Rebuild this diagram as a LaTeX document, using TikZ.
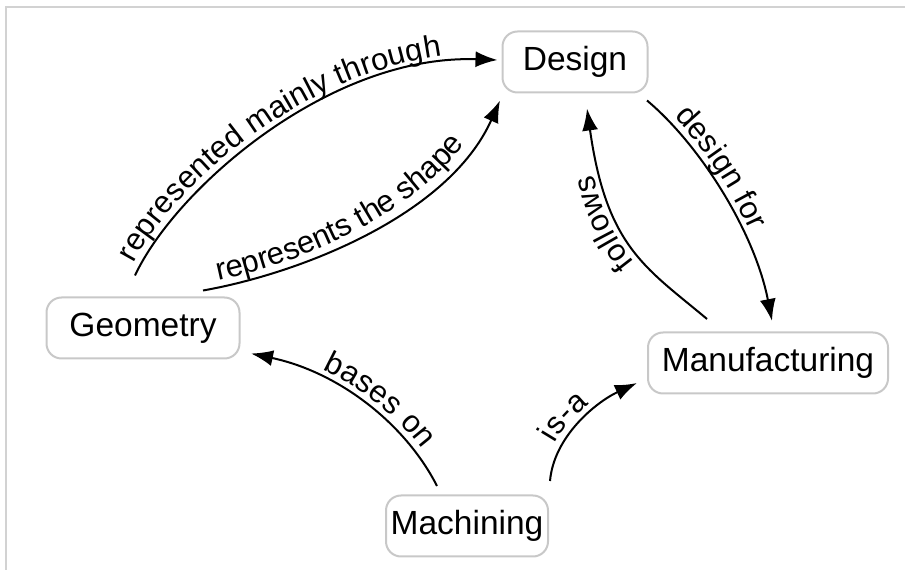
\documentclass[tikz,border=0pt]{standalone}
\usepackage{fontspec}
\setmainfont{Liberation Sans}
\usepackage{tikz}
\usetikzlibrary{arrows.meta,decorations.text}
\definecolor{boxgray}{HTML}{C8C8C8}
\definecolor{framegray}{HTML}{D2D2D2}
\newcommand{\nodefont}{\fontsize{33.5}{40}\selectfont}
\newcommand{\linkfont}{\fontsize{31}{37}\selectfont}
\tikzstyle{concept}=[rectangle, rounded corners=15pt, draw=boxgray, line width=2pt, fill=white, minimum height=61pt, inner sep=0pt, font=\nodefont]
\tikzstyle{link}=[line width=2pt, -{Latex[length=22pt,width=16pt]}]
\tikzstyle{linklabel}=[postaction={decorate}, decoration={text along path, raise=7pt}]
\tikzstyle{frame}=[draw=framegray, line width=1.5pt]

\begin{document}
\begin{tikzpicture}[x=1pt,y=1pt]
			\useasboundingbox (0,0) rectangle (905,570);
			%The frame
			\draw[frame] (6,0) -- (6,563) -- (905,563);

			%The concepts
			\draw (575,508) node[concept, minimum width=145pt] (design) {Design};
			\draw (143,242) node[concept, minimum width=193pt] (geo) {Geometry};
			\draw (768,207) node[concept, minimum width=240pt] (manu) {Manufacturing};
			\draw (467,44) node[concept, minimum width=162pt] (mach) {Machining};

			%The links to the design
			\draw[link, linklabel, decoration={text={|\linkfont|represented mainly through}, text align={center, right indent=45pt}}]
				([shift={(-8pt,21pt)}]geo.north) to[out=65, in=178, out distance=96pt, in distance=168pt] ([shift={(-4pt,2pt)}]design.west);
			\draw[link, linklabel, decoration={text={|\linkfont|represents the shape}, text align={center, left indent=20pt, right indent=60pt}}]
				([shift={(60pt,6pt)}]geo.north) to[out=10, in=246, out distance=98pt, in distance=126pt] ([shift={(-1.5pt,-7pt)}]design.south west);

			%Design and manufacturing
			\draw[link, linklabel, decoration={text={|\linkfont|design for}, text align={left, left indent=30pt}}]
				([shift={(72pt,-7pt)}]design.south) to[out=-40, in=101, out distance=70pt, in distance=90pt] ([shift={(4pt,10.5pt)}]manu.north);
			\draw[link, linklabel, decoration={text={|\linkfont|follows}, text align={center, left indent=25pt}}]
				([shift={(-61pt,12.5pt)}]manu.north) to[out=140, in=278, out distance=80pt, in distance=140pt] ([shift={(12pt,-15pt)}]design.south);

			%The links from machining
			\draw[link, linklabel, decoration={text={|\linkfont|bases on}, reverse path, text align={right, right indent=38pt}}]
				([shift={(-30pt,8.5pt)}]mach.north) to[out=117, in=-12, out distance=70pt, in distance=90pt] ([shift={(10.5pt,6pt)}]geo.south east);
			\draw[link, linklabel, decoration={text={|\linkfont|is-a}, text align={center, right indent=15pt}}]
				([shift={(83pt,13.5pt)}]mach.north) to[out=85, in=205, out distance=45pt, in distance=45pt] ([shift={(-10pt,11.5pt)}]manu.south west);
		\end{tikzpicture}
\end{document}
